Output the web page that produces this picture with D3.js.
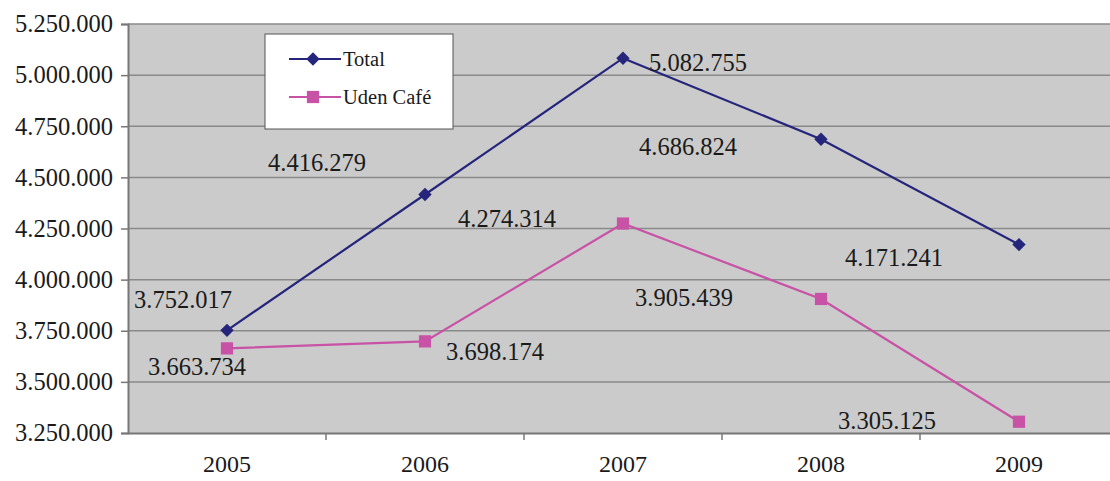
<!DOCTYPE html>
<html>
<head>
<meta charset="utf-8">
<script src="https://cdn.jsdelivr.net/npm/d3@7"></script>
<style>
  body { margin: 0; background: #fff; }
  svg { display: block; }
</style>
</head>
<body>
<svg id="chart" width="1110" height="481"></svg>
<script>
// chart values
var years = ["2005", "2006", "2007", "2008", "2009"];
var total = [3752017, 4416279, 5082755, 4686824, 4171241];
var udenCafe = [3663734, 3698174, 4274314, 3905439, 3305125];
var yTicks = [3250000, 3500000, 3750000, 4000000, 4250000, 4500000, 4750000, 5000000, 5250000];
var seriesNames = ["Total", "Uden Café"];

// label offsets (px) relative to each point, as placed in the original
var totalLabelOffset = [[-44, -31], [-108, -32], [75, 4], [-133, 7], [-125, 13]];
var udenLabelOffset = [[-30, 18], [70, 10], [-116, -5], [-137, -2], [-132, -1]];

var serif = "'Liberation Serif'";
var textColor = "#1a1a1a";

var svg = d3.select("#chart");
var margin = { top: 24, right: -8, bottom: 48, left: 128 };
var width = +svg.attr("width");
var height = +svg.attr("height");

var x = d3.scaleBand()
          .domain(years)
          .range([margin.left, width - margin.right]);

var y = d3.scaleLinear()
          .domain([3250000, 5250000])
          .range([height - margin.bottom, margin.top]);

var fmt = function(v) { return d3.format(",")(v).replace(/,/g, "."); };

// plot background
svg.append("rect")
    .attr("x", margin.left)
    .attr("y", margin.top)
    .attr("width", width - margin.right - margin.left)
    .attr("height", height - margin.bottom - margin.top)
    .attr("fill", "#cbcbcb");

// gridlines
svg.append("g")
  .selectAll("line")
  .data(yTicks.slice(1))
  .enter()
  .append("line")
    .attr("x1", margin.left)
    .attr("x2", width - margin.right)
    .attr("y1", d => y(d))
    .attr("y2", d => y(d))
    .attr("stroke", "#8a8a8a")
    .attr("stroke-width", 1.5);

// y axis
var yAxis = d3.axisLeft(y)
              .tickValues(yTicks)
              .tickSize(7)
              .tickPadding(8)
              .tickFormat(fmt);

var yg = svg.append("g")
    .attr("transform", "translate(" + margin.left + ",0)")
    .call(yAxis)
    .attr("font-family", null)
    .attr("font-size", null);
yg.selectAll("text")
    .style("font-family", serif)
    .style("font-size", "24.5px")
    .attr("fill", textColor);
yg.selectAll("line").attr("stroke", "#777").attr("stroke-width", 1.5);
yg.select(".domain").attr("stroke", "#777").attr("stroke-width", 2);

// x axis, ticks sit between categories
var xAxis = d3.axisBottom(x).tickSize(0).tickPadding(22);
var xg = svg.append("g")
    .attr("transform", "translate(0," + (height - margin.bottom) + ")")
    .call(xAxis)
    .attr("font-family", null)
    .attr("font-size", null);
xg.selectAll("text")
    .style("font-family", serif)
    .style("font-size", "24px")
    .attr("fill", textColor);
xg.select(".domain").attr("stroke", "#777").attr("stroke-width", 2);
xg.selectAll(".sep")
  .data(years.slice(1))
  .enter()
  .append("line")
    .attr("class", "sep")
    .attr("x1", d => x(d))
    .attr("x2", d => x(d))
    .attr("y1", 0)
    .attr("y2", 7)
    .attr("stroke", "#777")
    .attr("stroke-width", 1.5);

var cx = function(d, i) { return x(years[i]) + x.bandwidth() / 2; };

var line = d3.line()
             .x((d, i) => cx(d, i))
             .y(d => y(d));

var totalColor = "#25257c";
var udenColor = "#c852a6";

// lines
svg.append("path")
    .datum(udenCafe)
    .attr("d", line)
    .attr("fill", "none")
    .attr("stroke", udenColor)
    .attr("stroke-width", 2.2);

svg.append("path")
    .datum(total)
    .attr("d", line)
    .attr("fill", "none")
    .attr("stroke", totalColor)
    .attr("stroke-width", 2.2);

// markers: diamond is a square turned 45 degrees
var diamond = d3.symbol().type(d3.symbolSquare).size(90);
var square = d3.symbol().type(d3.symbolSquare).size(150);

svg.append("g")
  .selectAll("path")
  .data(total)
  .enter()
  .append("path")
    .attr("d", diamond)
    .attr("transform", (d, i) => "translate(" + cx(d, i) + "," + y(d) + ") rotate(45)")
    .attr("fill", totalColor);

svg.append("g")
  .selectAll("path")
  .data(udenCafe)
  .enter()
  .append("path")
    .attr("d", square)
    .attr("transform", (d, i) => "translate(" + cx(d, i) + "," + y(d) + ")")
    .attr("fill", udenColor);

// data labels
function addLabels(values, offsets) {
  svg.append("g")
    .selectAll("text")
    .data(values)
    .enter()
    .append("text")
      .attr("x", (d, i) => cx(d, i) + offsets[i][0])
      .attr("y", (d, i) => y(d) + offsets[i][1])
      .attr("dy", "0.35em")
      .attr("text-anchor", "middle")
      .style("font-family", serif)
      .style("font-size", "24.5px")
      .attr("fill", textColor)
      .text(d => fmt(d));
}
addLabels(total, totalLabelOffset);
addLabels(udenCafe, udenLabelOffset);

// legend
var legend = svg.append("g").attr("transform", "translate(265,34)");
legend.append("rect")
    .attr("width", 188)
    .attr("height", 95)
    .attr("fill", "#fff")
    .attr("stroke", "#555")
    .attr("stroke-width", 1);

var colors = [totalColor, udenColor];
var symbols = [diamond, square];
seriesNames.forEach(function(name, i) {
  var ly = 25 + i * 38;
  legend.append("line")
      .attr("x1", 24)
      .attr("x2", 76)
      .attr("y1", ly)
      .attr("y2", ly)
      .attr("stroke", colors[i])
      .attr("stroke-width", 2.2);
  legend.append("path")
      .attr("d", symbols[i])
      .attr("transform", "translate(48," + ly + ")" + (i === 0 ? " rotate(45)" : ""))
      .attr("fill", colors[i]);
  legend.append("text")
      .attr("x", 78)
      .attr("y", ly)
      .attr("dy", "0.35em")
      .style("font-family", serif)
      .style("font-size", "20.5px")
      .attr("fill", textColor)
      .text(name);
});
</script>
</body>
</html>
